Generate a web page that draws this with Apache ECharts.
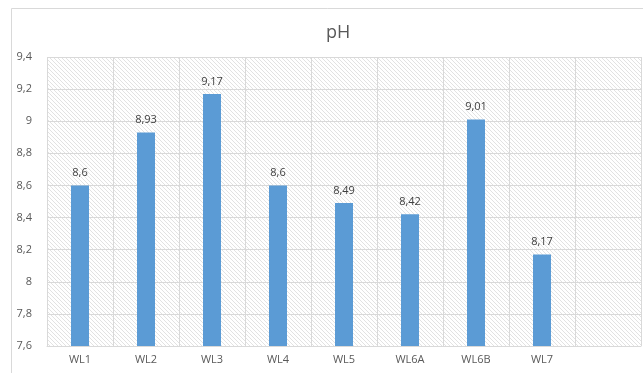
<!DOCTYPE html>
<html>
<head>
<meta charset="utf-8">
<script src="https://cdn.jsdelivr.net/npm/echarts@6/dist/echarts.min.js"></script>
<style>
  html, body { margin: 0; padding: 0; background: #fff; }
  #chart { width: 643px; height: 373px; }
</style>
</head>
<body>
<div id="chart"></div>
<script>
var categories = ["WL1", "WL2", "WL3", "WL4", "WL5", "WL6A", "WL6B", "WL7", ""];
var phValues = [8.6, 8.93, 9.17, 8.6, 8.49, 8.42, 9.01, 8.17, "-"];
var yTicks = { min: 7.6, max: 9.4, step: 0.2 };

// diagonal hatch used behind the plot, like the spreadsheet original
function hatch() {
  var c = document.createElement("canvas");
  c.width = 4; c.height = 4;
  var g = c.getContext("2d");
  g.fillStyle = "#fff";
  g.fillRect(0, 0, 4, 4);
  g.strokeStyle = "#e2e2e2";
  g.lineWidth = 1;
  g.beginPath();
  g.moveTo(-1, -1); g.lineTo(5, 5);
  g.moveTo(-1, 3); g.lineTo(1, 5);
  g.moveTo(3, -1); g.lineTo(5, 1);
  g.stroke();
  return c;
}

var comma = function (v) { return String(+v.toFixed(2)).replace(".", ","); };

var chart = echarts.init(document.getElementById("chart"));
chart.setOption({
  animation: false,
  backgroundColor: "#fff",
  graphic: [{
    type: "rect",
    shape: { x: 11.5, y: 8.5, width: 700, height: 400 },
    style: { fill: "none", stroke: "#d9d9d9", lineWidth: 1 },
    silent: true
  }],
  title: {
    text: "pH",
    left: 321,
    top: 19,
    textStyle: { color: "#595959", fontSize: 18, fontWeight: "normal", fontFamily: "Open Sans" }
  },
  grid: {
    left: 47, right: 2, top: 57, bottom: 27,
    show: true,
    borderWidth: 0,
    backgroundColor: { image: hatch(), repeat: "repeat" }
  },
  xAxis: {
    type: "category",
    data: categories,
    axisLine: { lineStyle: { color: "#d9d9d9" } },
    axisTick: { show: false },
    axisLabel: { color: "#595959", fontSize: 11, fontFamily: "Open Sans", margin: 8 },
    splitLine: { show: true, lineStyle: { color: "#d9d9d9" } }
  },
  yAxis: {
    type: "value",
    min: yTicks.min,
    max: yTicks.max,
    interval: yTicks.step,
    axisLine: { show: false },
    axisTick: { show: false },
    axisLabel: { color: "#595959", fontSize: 11, fontFamily: "Open Sans", margin: 15, formatter: comma },
    splitLine: { lineStyle: { color: "#d9d9d9" } }
  },
  series: [{
    type: "bar",
    data: phValues,
    barWidth: 18,
    itemStyle: { color: "#5b9bd5" },
    label: {
      show: true,
      position: "top",
      distance: 7,
      color: "#404040",
      fontSize: 11,
      fontFamily: "Open Sans",
      formatter: function (p) { return comma(p.value); }
    }
  }]
});
</script>
</body>
</html>
